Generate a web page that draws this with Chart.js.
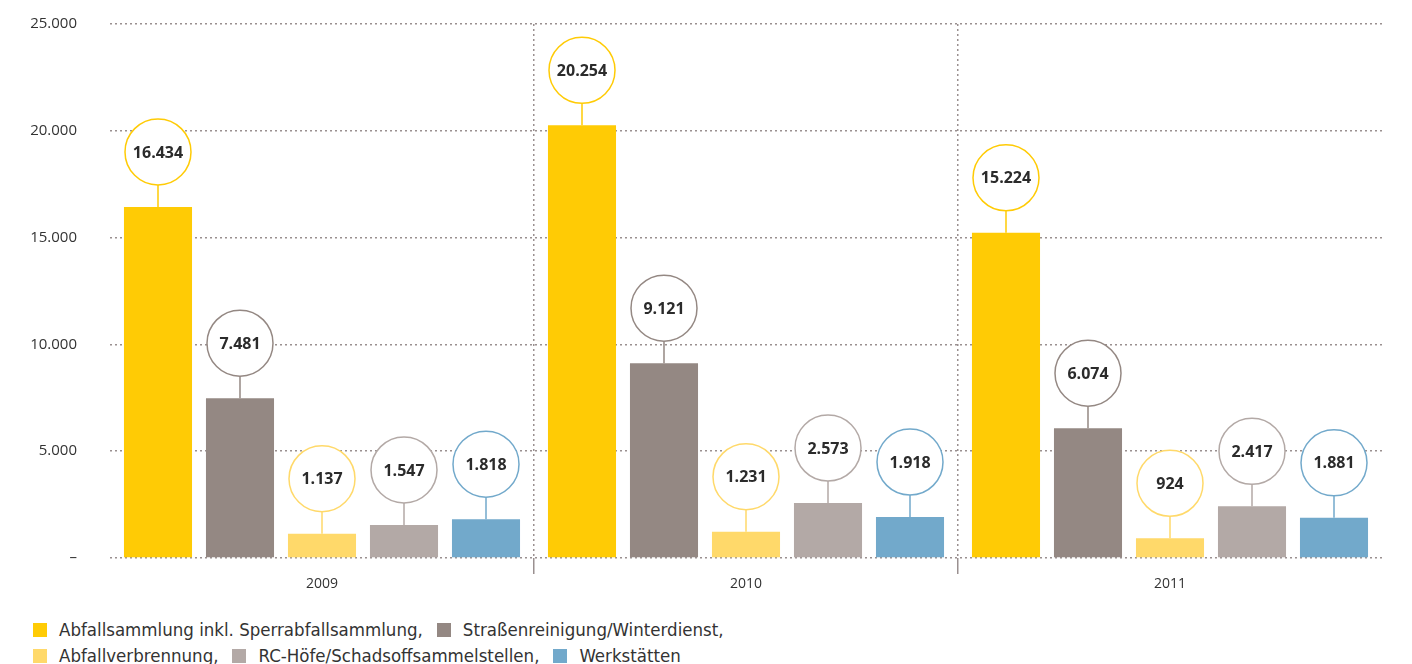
<!DOCTYPE html>
<html lang="de">
<head>
<meta charset="utf-8">
<title>Abfallwirtschaft 2009–2011</title>
<script src="https://cdn.jsdelivr.net/npm/chart.js@4/dist/chart.umd.min.js"></script>
<style>
    html, body { margin: 0; padding: 0; background: #fff; }
    body { width: 1412px; height: 664px; overflow: hidden; position: relative; }
    /* the y tick padding also pads the chart area vertically, so the box starts above the page */
    #chartBox { position: absolute; left: 0; top: -18px; width: 1412px; height: 618px; }
    #legende {
        position: absolute; left: 33px; top: 617px;
        font-family: "Liberation Sans Narrow", "DejaVu Sans Condensed", "Open Sans", sans-serif;
        font-size: 18.5px; color: #333; line-height: 26px;
    }
    #legende .item { display: inline-block; margin-right: 14px; white-space: nowrap; }
    #legende .box { display: inline-block; width: 14px; height: 14px; margin-right: 12px; vertical-align: -1px; }
</style>
</head>
<body>
<div id="chartBox"><canvas id="abfallChart"></canvas></div>
<div id="legende"></div>

<script>
// Jahre und Werte je Bereich
const jahre = ['2009', '2010', '2011'];
const bereiche = [
    'Abfallsammlung inkl. Sperrabfallsammlung',
    'Straßenreinigung/Winterdienst',
    'Abfallverbrennung',
    'RC-Höfe/Schadsoffsammelstellen',
    'Werkstätten'
];
const abfallsammlung = [16434, 20254, 15224];
const strassenreinigung = [7481, 9121, 6074];
const verbrennung = [1137, 1231, 924];
const rcHoefe = [1547, 2573, 2417];
const werkstaetten = [1818, 1918, 1881];
const yTicks = [0, 5000, 10000, 15000, 20000, 25000];

const farben = ['#FFCB05', '#948883', '#FFD96A', '#B3A9A6', '#72A9CB'];
const werte = [abfallsammlung, strassenreinigung, verbrennung, rcHoefe, werkstaetten];

function zahl(v) {
    return v.toLocaleString('de-DE');
}

// Kreis mit Wert über jedem Balken, mit Verbindungsstrich
const kreisLabels = {
    id: 'kreisLabels',
    afterDatasetsDraw(chart) {
        const ctx = chart.ctx;
        const radius = 33, stiel = 22;
        chart.data.datasets.forEach(function (ds, i) {
            const meta = chart.getDatasetMeta(i);
            meta.data.forEach(function (bar, j) {
                const cy = bar.y - stiel - radius;
                ctx.save();
                ctx.strokeStyle = ds.backgroundColor;
                ctx.lineWidth = 1.5;
                ctx.beginPath();
                ctx.moveTo(bar.x, bar.y);
                ctx.lineTo(bar.x, cy + radius);
                ctx.stroke();
                ctx.beginPath();
                ctx.arc(bar.x, cy, radius, 0, Math.PI * 2);
                ctx.fillStyle = '#fff';
                ctx.fill();
                ctx.stroke();
                ctx.fillStyle = '#2b2b2b';
                ctx.font = 'bold 16px "Open Sans", sans-serif';
                ctx.textAlign = 'center';
                ctx.textBaseline = 'middle';
                ctx.fillText(zahl(ds.data[j]), bar.x, cy + 1);
                ctx.restore();
            });
        });
    }
};

const ctx = document.getElementById('abfallChart').getContext('2d');
new Chart(ctx, {
    type: 'bar',
    data: {
        labels: jahre,
        datasets: bereiche.map(function (name, i) {
            return {
                label: name,
                data: werte[i],
                backgroundColor: farben[i],
                borderWidth: 0,
                barPercentage: 0.83,
                categoryPercentage: 0.967
            };
        })
    },
    options: {
        responsive: true,
        maintainAspectRatio: false,
        animation: false,
        layout: { padding: { top: 5, right: 30, left: 0, bottom: 2 } },
        plugins: {
            legend: { display: false },
            tooltip: { enabled: false }
        },
        scales: {
            x: {
                offset: true,
                border: { display: false, dash: [2, 3] },
                grid: {
                    offset: true,
                    tickLength: 16,
                    color: function (c) {
                        return (c.index === 1 || c.index === 2) ? '#9a9090' : 'rgba(0,0,0,0)';
                    },
                    lineWidth: 1.5
                },
                ticks: {
                    color: '#333',
                    padding: 2,
                    font: { family: '"Open Sans", sans-serif', size: 14 }
                }
            },
            y: {
                min: 0,
                max: 25000,
                afterFit: function (s) { s.width = 110; },
                afterBuildTicks: function (s) {
                    s.ticks = yTicks.map(function (v) { return { value: v }; });
                },
                border: { display: false, dash: [2, 3] },
                grid: {
                    drawTicks: false,
                    color: '#9a9090',
                    lineWidth: 1.5
                },
                ticks: {
                    color: '#333',
                    padding: 33,
                    font: { family: '"Open Sans", sans-serif', size: 15 },
                    callback: function (v) { return v === 0 ? '–' : zahl(v); }
                }
            }
        }
    },
    plugins: [kreisLabels]
});

// Legende unter dem Diagramm, in zwei Zeilen
const legende = document.getElementById('legende');
bereiche.forEach(function (name, i) {
    const item = document.createElement('span');
    item.className = 'item';
    item.innerHTML = '<span class="box" style="background:' + farben[i] + '"></span>' +
        name + (i < bereiche.length - 1 ? ',' : '');
    legende.appendChild(item);
    if (i === 1) legende.appendChild(document.createElement('br'));
});
</script>
</body>
</html>
